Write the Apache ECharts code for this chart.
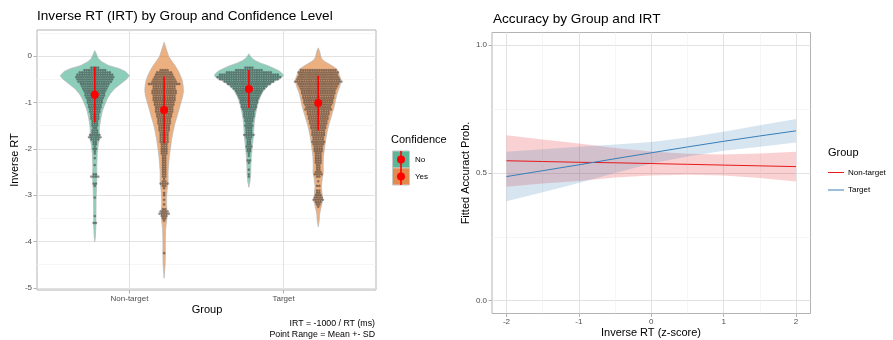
<!DOCTYPE html>
<html>
<head>
<meta charset="utf-8">
<script src="https://cdn.jsdelivr.net/npm/echarts@6/dist/echarts.min.js"></script>
<style>
html,body{margin:0;padding:0;background:#fff;}
#chart{width:893px;height:340px;}
</style>
</head>
<body>
<div id="chart"></div>
<script>
// categories
var groups = ['Non-target', 'Target'];
var confidence = ['No', 'Yes'];

// violin outlines: [irt, density]
var violinNtNo = [[0.12,0],[0.05,1.5],[-0.05,3.5],[-0.12,7],[-0.2,14],[-0.27,25],[-0.33,31],[-0.42,35],[-0.5,32],[-0.6,26],[-0.7,20],[-0.8,16],[-0.9,13],[-1.0,11],[-1.1,9],[-1.2,7.5],[-1.35,6],[-1.5,5],[-1.6,4.5],[-1.75,5],[-1.9,3.5],[-2.1,2.5],[-2.4,2],[-2.6,2.2],[-2.8,1.8],[-3.1,1.3],[-3.5,1.2],[-3.7,1],[-3.9,0.6],[-4.0,0]];
var violinNtYes = [[0.3,0],[0.2,1.5],[0.1,3],[0.0,4.5],[-0.1,7.5],[-0.2,11],[-0.31,14],[-0.42,16.5],[-0.53,18.3],[-0.64,19.2],[-0.75,19.5],[-0.86,18.8],[-0.96,17.5],[-1.07,16],[-1.17,14.7],[-1.3,13],[-1.46,10.8],[-1.63,9],[-1.81,7.5],[-2.0,6.2],[-2.17,5.2],[-2.35,4.5],[-2.5,4],[-2.7,4],[-2.9,3],[-3.05,2.5],[-3.2,2.5],[-3.4,3],[-3.55,2.5],[-3.74,1.5],[-4.0,1.2],[-4.25,1.3],[-4.5,1],[-4.79,0]];
var violinTNo = [[0.05,0],[0.0,1.5],[-0.05,3.5],[-0.1,6.7],[-0.15,12],[-0.21,20],[-0.26,25],[-0.31,30],[-0.37,33.5],[-0.42,35],[-0.48,32],[-0.53,26.7],[-0.63,20],[-0.74,15],[-0.85,12],[-0.96,10],[-1.07,8.5],[-1.17,7.5],[-1.3,6.3],[-1.46,5.3],[-1.63,4.8],[-1.81,4.2],[-2.0,3.2],[-2.17,2.5],[-2.35,2],[-2.55,1.8],[-2.7,1.2],[-2.83,0]];
var violinTYes = [[0.18,0],[0.1,1.5],[0.0,2.5],[-0.07,4],[-0.12,7],[-0.17,11],[-0.22,15],[-0.28,19],[-0.39,21],[-0.5,23],[-0.6,22.5],[-0.7,21],[-0.81,19],[-0.95,17.5],[-1.1,16],[-1.28,13.5],[-1.46,11],[-1.63,9],[-1.81,7.5],[-2.0,6.3],[-2.17,5.3],[-2.35,5],[-2.5,5.2],[-2.65,4],[-2.81,3.2],[-2.95,3.8],[-3.1,4.5],[-3.25,3],[-3.4,1.5],[-3.55,1],[-3.68,0]];

// dot rows: [irt bin, count]
var dotsNtNo = [[-0.25,4],[-0.3,10],[-0.35,14],[-0.4,16],[-0.45,17],[-0.5,16],[-0.55,15],[-0.6,13],[-0.65,12],[-0.7,11],[-0.75,10],[-0.8,9],[-0.85,9],[-0.9,8],[-0.95,7],[-1.0,7],[-1.05,6],[-1.1,6],[-1.15,5],[-1.2,5],[-1.25,4],[-1.3,4],[-1.35,4],[-1.4,3],[-1.45,3],[-1.5,3],[-1.55,2],[-1.6,3],[-1.65,3],[-1.7,5],[-1.75,6],[-1.8,4],[-1.85,2],[-1.9,2],[-1.95,1],[-2.0,2],[-2.05,1],[-2.1,1],[-2.2,1],[-2.35,1],[-2.55,2],[-2.6,4],[-2.75,2],[-2.8,1],[-3.05,1],[-3.45,1],[-3.6,2]];
var dotsNtYes = [[-0.3,4],[-0.35,7],[-0.4,8],[-0.45,9],[-0.5,10],[-0.55,11],[-0.6,14],[-0.65,10],[-0.7,10],[-0.75,11],[-0.8,11],[-0.85,10],[-0.9,10],[-0.95,10],[-1.0,9],[-1.05,9],[-1.1,8],[-1.15,8],[-1.2,8],[-1.25,7],[-1.3,7],[-1.35,6],[-1.4,6],[-1.45,6],[-1.5,5],[-1.55,5],[-1.6,5],[-1.65,4],[-1.7,4],[-1.75,4],[-1.8,4],[-1.85,4],[-1.9,3],[-1.95,3],[-2.0,3],[-2.05,3],[-2.1,3],[-2.15,2],[-2.2,2],[-2.25,2],[-2.3,2],[-2.35,2],[-2.4,2],[-2.45,2],[-2.5,2],[-2.55,2],[-2.6,2],[-2.65,1],[-2.7,2],[-2.75,4],[-2.8,2],[-2.85,1],[-2.95,1],[-3.0,1],[-3.1,1],[-3.2,1],[-3.3,2],[-3.35,4],[-3.4,5],[-3.45,3],[-3.5,2],[-3.55,1],[-4.25,1]];
var dotsTNo = [[-0.25,4],[-0.3,12],[-0.35,20],[-0.4,26],[-0.45,28],[-0.5,26],[-0.55,22],[-0.6,19],[-0.65,16],[-0.7,14],[-0.75,12],[-0.8,11],[-0.85,10],[-0.9,9],[-0.95,8],[-1.0,8],[-1.05,7],[-1.1,7],[-1.15,6],[-1.2,5],[-1.25,5],[-1.3,5],[-1.35,4],[-1.4,4],[-1.45,3],[-1.5,4],[-1.55,3],[-1.6,3],[-1.65,3],[-1.7,5],[-1.75,3],[-1.8,2],[-1.85,2],[-1.9,2],[-1.95,3],[-2.0,2],[-2.05,2],[-2.1,1],[-2.15,1],[-2.25,2],[-2.3,1],[-2.45,1],[-2.55,1],[-2.6,1]];
var dotsTYes = [[-0.3,16],[-0.35,18],[-0.4,17],[-0.45,18],[-0.5,19],[-0.55,21],[-0.6,18],[-0.65,17],[-0.7,16],[-0.75,15],[-0.8,15],[-0.85,14],[-0.9,14],[-0.95,13],[-1.0,13],[-1.05,12],[-1.1,11],[-1.15,12],[-1.2,10],[-1.25,10],[-1.3,9],[-1.35,9],[-1.4,8],[-1.45,8],[-1.5,7],[-1.55,7],[-1.6,6],[-1.65,6],[-1.7,6],[-1.75,5],[-1.8,5],[-1.85,6],[-1.9,5],[-1.95,4],[-2.0,4],[-2.05,4],[-2.1,3],[-2.15,3],[-2.2,3],[-2.25,3],[-2.3,3],[-2.35,2],[-2.4,2],[-2.45,2],[-2.5,3],[-2.55,4],[-2.6,2],[-2.7,1],[-2.8,2],[-2.9,2],[-2.95,2],[-3.0,3],[-3.05,4],[-3.1,5],[-3.15,3],[-3.2,2],[-3.25,1]];

// mean +- sd per violin (NT No, NT Yes, T No, T Yes)
var irtMean = [-0.83, -1.16, -0.71, -1.01];
var irtSd = [0.60, 0.72, 0.41, 0.59];

// fitted accuracy
var irtZ = [-2, -1.5, -1, -0.5, 0, 0.5, 1, 1.5, 2];
var ntFit = [0.548, 0.545, 0.542, 0.540, 0.537, 0.534, 0.531, 0.528, 0.525];
var ntLow = [0.446, 0.459, 0.469, 0.482, 0.490, 0.493, 0.490, 0.480, 0.467];
var ntHigh = [0.648, 0.631, 0.615, 0.598, 0.584, 0.575, 0.572, 0.576, 0.583];
var tFit = [0.486, 0.509, 0.532, 0.556, 0.579, 0.602, 0.624, 0.645, 0.665];
var tLow = [0.389, 0.425, 0.461, 0.500, 0.537, 0.565, 0.587, 0.603, 0.619];
var tHigh = [0.583, 0.593, 0.603, 0.612, 0.621, 0.639, 0.661, 0.687, 0.711];

var violins = [violinNtNo, violinNtYes, violinTNo, violinTYes];
var dotRows = [dotsNtNo, dotsNtYes, dotsTNo, dotsTYes];
var DODGE = 0.225;
var centers = [1 - DODGE, 1 + DODGE, 2 - DODGE, 2 + DODGE];
var DENS_TO_X = 0.225 / 35;
var BINW = 0.05;
var fills = ['rgba(27,158,119,0.5)', 'rgba(217,95,2,0.5)', 'rgba(27,158,119,0.5)', 'rgba(217,95,2,0.5)'];
var FONT = 'Liberation Sans';

function violinItem(params, api) {
	var i = params.dataIndex;
	var v = violins[i], cx = centers[i];
	var right = [], left = [];
	for (var k = 0; k < v.length; k++) {
		right.push(api.coord([cx + v[k][1] * DENS_TO_X, v[k][0]]));
		left.unshift(api.coord([cx - v[k][1] * DENS_TO_X, v[k][0]]));
	}
	return {
		type: 'polygon',
		shape: {points: right.concat(left)},
		style: {fill: fills[i], stroke: '#b8b8b8', lineWidth: 0.7}
	};
}

function dotsItem(params, api) {
	var i = params.dataIndex;
	var rows = dotRows[i];
	var d = api.size([0, BINW])[1];
	var kids = [];
	for (var r = 0; r < rows.length; r++) {
		var c = api.coord([centers[i], rows[r][0]]);
		var n = rows[r][1];
		for (var k = 0; k < n; k++) {
			kids.push({
				type: 'circle',
				shape: {cx: c[0] + (k - (n - 1) / 2) * d, cy: c[1], r: d / 2},
				style: {fill: 'rgba(45,45,45,0.5)', stroke: 'rgba(45,45,45,0.25)', lineWidth: 0.5}
			});
		}
	}
	return {type: 'group', children: kids};
}

function rangeItem(params, api) {
	var i = params.dataIndex;
	var top = api.coord([centers[i], irtMean[i] + irtSd[i]]);
	var bot = api.coord([centers[i], irtMean[i] - irtSd[i]]);
	var mid = api.coord([centers[i], irtMean[i]]);
	return {type: 'group', children: [
		{type: 'line', shape: {x1: top[0], y1: top[1], x2: bot[0], y2: bot[1]}, style: {stroke: '#ff0000', lineWidth: 1.6}},
		{type: 'circle', shape: {cx: mid[0], cy: mid[1], r: 4}, style: {fill: '#ff0000'}}
	]};
}

function ribbon(low, high, color) {
	return {
		type: 'custom', xAxisIndex: 1, yAxisIndex: 2, clip: true, silent: true,
		data: [[0, 0.5]],
		renderItem: function (params, api) {
			var pts = [];
			for (var k = 0; k < irtZ.length; k++) pts.push(api.coord([irtZ[k], high[k]]));
			for (var k2 = irtZ.length - 1; k2 >= 0; k2--) pts.push(api.coord([irtZ[k2], low[k2]]));
			return {type: 'polygon', shape: {points: pts}, style: {fill: color}};
		}
	};
}

function pairs(xs, ys) {
	return xs.map(function (x, i) { return [x, ys[i]]; });
}

var tickStyle = {length: 3.5, lineStyle: {color: '#b3b3b3', width: 1}};
var labelStyle = {fontSize: 8, color: '#4d4d4d', fontFamily: FONT};
var majorGrid = {show: true, lineStyle: {color: '#e2e2e2', width: 1}};
var minorGrid = {show: true, lineStyle: {color: '#f0f0f0', width: 0.6}};

function majorAxis(gi, min, max, vals, fmt, margin, pos) {
	return {
		gridIndex: gi, type: 'value', min: min, max: max, position: pos,
		axisLine: {show: false, onZero: false},
		axisTick: Object.assign({customValues: vals}, tickStyle),
		axisLabel: Object.assign({customValues: vals, formatter: fmt, margin: margin}, labelStyle),
		splitLine: majorGrid
	};
}
function minorAxis(gi, min, max, vals, pos) {
	return {
		gridIndex: gi, type: 'value', min: min, max: max, position: pos,
		axisLine: {show: false, onZero: false},
		axisTick: {show: false, customValues: vals},
		axisLabel: {show: false},
		splitLine: minorGrid
	};
}

var chart = echarts.init(document.getElementById('chart'));

var option = {
	animation: false,
	backgroundColor: '#fff',
	grid: [
		{left: 37, top: 30, width: 339, height: 260, show: true, borderColor: '#b3b3b3', borderWidth: 1, backgroundColor: 'transparent'},
		{left: 492, top: 32.5, width: 318.5, height: 281, show: true, borderColor: '#b3b3b3', borderWidth: 1, backgroundColor: 'transparent'}
	],
	xAxis: [
		majorAxis(0, 0.4, 2.6, [1, 2], function (v) { return groups[Math.round(v) - 1]; }, 5, 'bottom'),
		majorAxis(1, -2.2, 2.2, [-2, -1, 0, 1, 2], function (v) { return String(v); }, 4.5, 'bottom'),
		minorAxis(1, -2.2, 2.2, [-1.5, -0.5, 0.5, 1.5], 'top')
	],
	yAxis: [
		majorAxis(0, -5.045, 0.565, [-5, -4, -3, -2, -1, 0], function (v) { return String(v); }, 5, 'left'),
		minorAxis(0, -5.045, 0.565, [-4.5, -3.5, -2.5, -1.5, -0.5, 0.5], 'right'),
		majorAxis(1, -0.05, 1.05, [0, 0.5, 1], function (v) { return v.toFixed(1); }, 5, 'left'),
		minorAxis(1, -0.05, 1.05, [0.25, 0.75], 'right')
	],
	series: [
		{type: 'custom', xAxisIndex: 0, yAxisIndex: 0, clip: true, silent: true,
			data: centers.map(function (c, i) { return [c, irtMean[i]]; }), renderItem: violinItem},
		{type: 'custom', xAxisIndex: 0, yAxisIndex: 0, clip: true, silent: true,
			data: centers.map(function (c, i) { return [c, irtMean[i]]; }), renderItem: dotsItem},
		{type: 'custom', xAxisIndex: 0, yAxisIndex: 0, clip: true, silent: true,
			data: centers.map(function (c, i) { return [c, irtMean[i]]; }), renderItem: rangeItem},
		ribbon(ntLow, ntHigh, 'rgba(228,26,28,0.2)'),
		ribbon(tLow, tHigh, 'rgba(55,126,184,0.2)'),
		{type: 'line', xAxisIndex: 1, yAxisIndex: 2, data: pairs(irtZ, ntFit), showSymbol: false, silent: true,
			lineStyle: {color: '#E41A1C', width: 1}},
		{type: 'line', xAxisIndex: 1, yAxisIndex: 2, data: pairs(irtZ, tFit), showSymbol: false, silent: true,
			lineStyle: {color: '#377EB8', width: 1}}
	],
	graphic: [
		{type: 'text', x: 37, y: 16.5, style: {text: 'Inverse RT (IRT) by Group and Confidence Level', font: '13.6px ' + FONT, fill: '#000', verticalAlign: 'middle'}},
		{type: 'text', x: 493, y: 19, style: {text: 'Accuracy by Group and IRT', font: '13.6px ' + FONT, fill: '#000', verticalAlign: 'middle'}},
		{type: 'text', x: 15, y: 160, rotation: Math.PI / 2, style: {text: 'Inverse RT', font: '11px ' + FONT, fill: '#000', align: 'center', verticalAlign: 'middle'}},
		{type: 'text', x: 207, y: 310, style: {text: 'Group', font: '11px ' + FONT, fill: '#000', align: 'center', verticalAlign: 'middle'}},
		{type: 'text', x: 466, y: 173, rotation: Math.PI / 2, style: {text: 'Fitted Accuract Prob.', font: '11px ' + FONT, fill: '#000', align: 'center', verticalAlign: 'middle'}},
		{type: 'text', x: 651, y: 333, style: {text: 'Inverse RT (z-score)', font: '11px ' + FONT, fill: '#000', align: 'center', verticalAlign: 'middle'}},
		{type: 'text', x: 375, y: 324, style: {text: 'IRT = -1000 / RT (ms)', font: '8.8px ' + FONT, fill: '#000', align: 'right', verticalAlign: 'middle'}},
		{type: 'text', x: 375, y: 335, style: {text: 'Point Range = Mean +- SD', font: '8.8px ' + FONT, fill: '#000', align: 'right', verticalAlign: 'middle'}},
		// confidence legend
		{type: 'text', x: 391, y: 140, style: {text: 'Confidence', font: '11px ' + FONT, fill: '#000', verticalAlign: 'middle'}},
		{type: 'rect', shape: {x: 392.5, y: 151, width: 17, height: 17}, style: {fill: '#5bb797', stroke: '#c9c9c9', lineWidth: 1}},
		{type: 'rect', shape: {x: 392.5, y: 168, width: 17, height: 17}, style: {fill: '#e38b4c', stroke: '#c9c9c9', lineWidth: 1}},
		{type: 'line', shape: {x1: 401, y1: 151, x2: 401, y2: 168}, style: {stroke: '#ff0000', lineWidth: 1.6}},
		{type: 'line', shape: {x1: 401, y1: 168, x2: 401, y2: 185}, style: {stroke: '#ff0000', lineWidth: 1.6}},
		{type: 'circle', shape: {cx: 401, cy: 159.5, r: 4}, style: {fill: '#ff0000'}},
		{type: 'circle', shape: {cx: 401, cy: 176.5, r: 4}, style: {fill: '#ff0000'}},
		{type: 'text', x: 415, y: 159.5, style: {text: confidence[0], font: '8px ' + FONT, fill: '#000', verticalAlign: 'middle'}},
		{type: 'text', x: 415, y: 176.5, style: {text: confidence[1], font: '8px ' + FONT, fill: '#000', verticalAlign: 'middle'}},
		// group legend
		{type: 'text', x: 828, y: 153, style: {text: 'Group', font: '11px ' + FONT, fill: '#000', verticalAlign: 'middle'}},
		{type: 'line', shape: {x1: 828, y1: 172.5, x2: 844, y2: 172.5}, style: {stroke: '#E41A1C', lineWidth: 1}},
		{type: 'line', shape: {x1: 828, y1: 190, x2: 844, y2: 190}, style: {stroke: '#377EB8', lineWidth: 1}},
		{type: 'text', x: 848, y: 172.5, style: {text: groups[0], font: '8px ' + FONT, fill: '#000', verticalAlign: 'middle'}},
		{type: 'text', x: 848, y: 190, style: {text: groups[1], font: '8px ' + FONT, fill: '#000', verticalAlign: 'middle'}}
	]
};

chart.setOption(option);
</script>
</body>
</html>
